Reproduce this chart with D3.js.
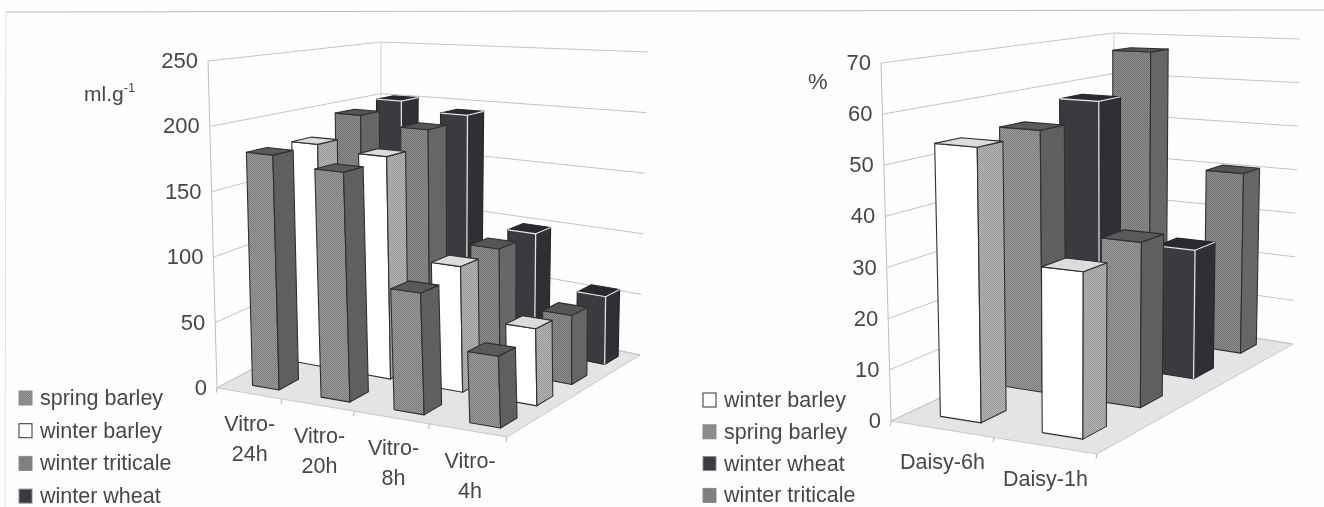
<!DOCTYPE html>
<html>
<head>
<meta charset="utf-8">
<script src="https://cdnjs.cloudflare.com/ajax/libs/d3/7.8.5/d3.min.js"></script>
<style>
  html, body { margin: 0; padding: 0; background: #fff; }
  svg { display: block; filter: blur(0.45px); }
  text { font-family: "Liberation Sans", Arial, sans-serif; fill: #474747; }
</style>
</head>
<body>
<div id="container"></div>
<script>
let w = 1324;
let h = 507;

// data
let vitroCats = [["Vitro-", "24h"], ["Vitro-", "20h"], ["Vitro-", "8h"], ["Vitro-", "4h"]];
let vitroSeries = ["spring barley", "winter barley", "winter triticale", "winter wheat"];
let vitroSpring = [180, 173, 90, 52];
let vitroWinterBarley = [180, 176, 97, 58];
let vitroTriticale = [196, 189, 98, 54];
let vitroWheat = [201, 193, 98, 55];
let vitroTicks = [0, 50, 100, 150, 200, 250];

let daisyCats = [["Daisy-6h"], ["Daisy-1h"]];
let daisySeries = ["winter barley", "spring barley", "winter wheat", "winter triticale"];
let daisyWinterBarley = [54, 32];
let daisySpring = [54.5, 33.5];
let daisyWheat = [58, 27.5];
let daisyTriticale = [67, 40.5];
let daisyTicks = [0, 10, 20, 30, 40, 50, 60, 70];

// shades per series: front, side, top, edge
let shades = {
  "spring barley":    { front: "#8b8b8b", side: "#5f5f60", top: "#5a5a5a", edge: "#2f2f2f" },
  "winter barley":    { front: "#ffffff", side: "#a6a6a6", top: "#dcdcdc", edge: "#2f2f2f" },
  "winter triticale": { front: "#7f7f80", side: "#666667", top: "#555556", edge: "#303030" },
  "winter wheat":     { front: "#3a3a40", side: "#2f2f35", top: "#2a2a2e", edge: "#26262a" }
};

let viz = d3.select("#container").append("svg")
    .attr("width", w)
    .attr("height", h)
    .style("background-color", "#fefefe")
;

// checker patterns give the printed halftone look on the grey faces
let defs = viz.append("defs");
function checker(id, colour){
  let c = d3.color(colour);
  let p = defs.append("pattern").attr("id", id)
      .attr("width", 2).attr("height", 2).attr("patternUnits", "userSpaceOnUse");
  p.append("rect").attr("width", 2).attr("height", 2).attr("fill", c.brighter(0.25));
  p.append("rect").attr("width", 1).attr("height", 1).attr("fill", c.darker(0.25));
  p.append("rect").attr("x", 1).attr("y", 1).attr("width", 1).attr("height", 1).attr("fill", c.darker(0.25));
}
vitroSeries.forEach((s, i)=>{
  checker("f"+i, shades[s].front);
  checker("s"+i, shades[s].side);
});
function faceFill(name, kind){
  if(kind=="top") return shades[name].top;
  if(kind=="front" && name=="winter barley") return "#fff";
  return "url(#"+(kind=="front" ? "f" : "s")+vitroSeries.indexOf(name)+")";
}

// frame lines of the scanned page
viz.append("line").attr("x1", 6).attr("y1", 12).attr("x2", w).attr("y2", 10).attr("stroke", "#bdbdbd");
viz.append("line").attr("x1", 6).attr("y1", 12).attr("x2", 5).attr("y2", h).attr("stroke", "#dedede");

// bilinear map of the unit square onto a quad: p00, p10, p11, p01
function quad(p00, p10, p11, p01){
  return function(u, v){
    return [0, 1].map(k=>(1-u)*(1-v)*p00[k] + u*(1-v)*p10[k] + u*v*p11[k] + (1-u)*v*p01[k]);
  };
}

function draw3d(c){
  let g = viz.append("g");
  let floorMap = quad(c.floor[0], c.floor[1], c.floor[2], c.floor[3]);
  let topMap = quad(c.roof[0], c.roof[1], c.roof[2], c.roof[3]);
  let zScale = d3.scaleLinear().domain([0, c.ticks[c.ticks.length-1]]).range([0, 1]);
  let uScale = d3.scaleBand().domain(d3.range(c.cats.length)).range([0, 1]).paddingInner(c.uGap).paddingOuter(c.uGap/2);
  let vScale = d3.scaleBand().domain(c.series).range([0, 1]).paddingInner(c.vGap).paddingOuter(c.vGap/2);
  let slot = d3.scaleBand().domain(d3.range(c.cats.length)).range([0, 1]);
  // foreshortening: slots grow towards the right corner, shrink towards the back
  let uWarp = d3.scalePow().exponent(c.uPow).domain([0, 1]).range([0, 1]);
  let vWarp = d3.scalePow().exponent(c.vPow).domain([0, 1]).range([0, 1]);

  function project(u, v, val){
    let uu = uWarp(u), vv = 1-vWarp(1-v);
    let a = floorMap(uu, vv), b = topMap(uu, vv), t = zScale(val);
    return [a[0]+(b[0]-a[0])*t, a[1]+(b[1]-a[1])*t];
  }
  let line = d3.line();
  let poly = pts => line(pts)+"Z";

  // floor
  g.append("path").attr("d", poly([[0,0],[1,0],[1,1],[0,1]].map(p=>project(p[0], p[1], 0))))
      .attr("fill", "#e4e4e4").attr("stroke", "#c9c9c9");

  // gridlines and value labels
  let grid = g.selectAll(".grid").data(c.ticks).enter().append("g").attr("class", "grid");
  grid.append("path")
      .attr("d", d=>line([project(0,0,d), project(0,1,d), project(1,1,d)]))
      .attr("fill", "none").attr("stroke", "#c4c4c4");
  grid.append("text")
      .attr("x", d=>project(0,0,d)[0]-10)
      .attr("y", d=>project(0,0,d)[1]+7)
      .attr("text-anchor", "end")
      .attr("font-size", 22)
      .text(d=>d);
  g.append("path").attr("d", line([project(0,0,0), project(0,0,c.ticks[c.ticks.length-1])]))
      .attr("stroke", "#bcbcbc").attr("fill", "none");
  g.append("path").attr("d", line([project(0,1,0), project(0,1,c.ticks[c.ticks.length-1])]))
      .attr("stroke", "#d0d0d0").attr("fill", "none");

  // bars: back row first, then left to right
  let bars = [];
  c.series.slice().reverse().forEach((s)=>{
    c.values[s].forEach((val, i)=>{ bars.push({series: s, cat: i, value: val}); });
  });
  let bar = g.selectAll(".bar").data(bars).enter().append("g").attr("class", "bar");
  bar.each(function(d){
    let sel = d3.select(this);
    let u0 = uScale(d.cat)+c.uShift, u1 = u0+uScale.bandwidth();
    let v0 = vScale(d.series), v1 = v0+vScale.bandwidth();
    let st = shades[d.series];
    let faces = [
      ["front", [[u0,v0,0],[u1,v0,0],[u1,v0,d.value],[u0,v0,d.value]]],
      ["side", [[u1,v0,0],[u1,v1,0],[u1,v1,d.value],[u1,v0,d.value]]],
      ["top", [[u0,v0,d.value],[u1,v0,d.value],[u1,v1,d.value],[u0,v1,d.value]]]
    ];
    faces.forEach(f=>{
      sel.append("path")
          .attr("d", poly(f[1].map(p=>project(p[0], p[1], p[2]))))
          .attr("fill", faceFill(d.series, f[0]))
          .attr("stroke", st.edge)
          .attr("stroke-width", 1.1)
          .attr("stroke-linejoin", "round");
    });
    // wheat has pale edges on the dark faces
    if(d.series=="winter wheat"){
      sel.append("path")
          .attr("d", line([[u0,v0,d.value],[u1,v0,d.value],[u1,v0,0]].map(p=>project(p[0], p[1], p[2]))))
          .attr("fill", "none").attr("stroke", "#e4e4e4").attr("stroke-width", 1.3);
      sel.append("path")
          .attr("d", line([[u1,v0,d.value],[u1,v1,d.value]].map(p=>project(p[0], p[1], p[2]))))
          .attr("fill", "none").attr("stroke", "#e4e4e4").attr("stroke-width", 1.1);
    }
  });

  // category ticks on the front edge
  d3.range(c.cats.length+1).forEach(i=>{
    let u = i==c.cats.length ? 1 : slot(i);
    let p = project(u, 0, 0);
    g.append("line").attr("x1", p[0]).attr("y1", p[1]).attr("x2", p[0]-1).attr("y2", p[1]+5).attr("stroke", "#b5b5b5");
  });

  // category labels
  let labels = g.selectAll(".cat").data(c.cats).enter().append("text")
      .attr("class", "cat")
      .attr("text-anchor", "middle")
      .attr("font-size", 21.5)
      .attr("transform", (d,i)=>{
        let p = project(slot(i)+slot.bandwidth()/2, 0, 0);
        return "translate("+(p[0]+c.catShift)+","+(p[1]+c.catDrop)+")";
      });
  labels.selectAll("tspan").data(d=>d).enter().append("tspan")
      .attr("x", 0)
      .attr("y", (d,i)=>i*30)
      .text(d=>d);

  // legend
  let legend = g.selectAll(".legend").data(c.series).enter().append("g")
      .attr("class", "legend")
      .attr("transform", (d,i)=>"translate("+c.legendX+","+(c.legendY+i*c.legendStep)+")");
  legend.append("rect")
      .attr("x", 0).attr("y", -7).attr("width", 13).attr("height", 14)
      .attr("fill", d=>faceFill(d, "front"))
      .attr("stroke", d=>d=="winter barley" ? "#333" : "#8a8a8a");
  legend.append("text").attr("x", 21).attr("y", 7).attr("font-size", 21.5).text(d=>d);
}

draw3d({
  cats: vitroCats,
  series: vitroSeries,
  values: {
    "spring barley": vitroSpring,
    "winter barley": vitroWinterBarley,
    "winter triticale": vitroTriticale,
    "winter wheat": vitroWheat
  },
  ticks: vitroTicks,
  floor: [[217,388],[507,437],[640,355],[381,300]],
  roof: [[208,61],[495,87],[648,52],[381,42]],
  uGap: 0.6, vGap: 0.55,
  uPow: 1.08, vPow: 1.1,
  uShift: 0.022,
  catDrop: 38, catShift: 2,
  legendX: 19, legendY: 398, legendStep: 32.7
});

draw3d({
  cats: daisyCats,
  series: daisySeries,
  values: {
    "winter barley": daisyWinterBarley,
    "spring barley": daisySpring,
    "winter wheat": daisyWheat,
    "winter triticale": daisyTriticale
  },
  ticks: daisyTicks,
  floor: [[891,421],[1097,454],[1293,344],[1114,316]],
  roof: [[881,63],[1099,79],[1300,39],[1114,33]],
  uGap: 0.6, vGap: 0.6,
  uPow: 1, vPow: 1.2,
  uShift: -0.005,
  catDrop: 40, catShift: 0,
  legendX: 703, legendY: 400, legendStep: 31.8
});

// unit labels
let ml = viz.append("text").attr("x", 84).attr("y", 101).attr("font-size", 21).text("ml.g");
ml.append("tspan").attr("font-size", 13).attr("dy", -9).text("-1");
viz.append("text").attr("x", 808).attr("y", 89).attr("font-size", 22).text("%");
</script>
</body>
</html>
